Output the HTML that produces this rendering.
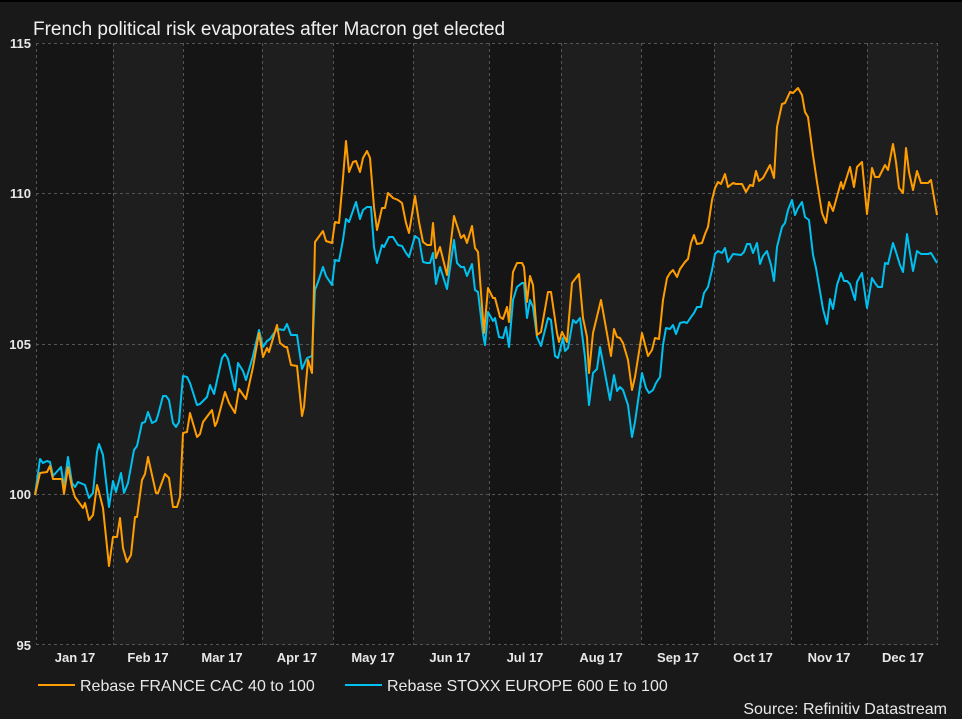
<!DOCTYPE html>
<html><head><meta charset="utf-8"><style>
html,body{margin:0;padding:0;background:#191919;}
svg{display:block;font-family:"Liberation Sans",Arial,sans-serif;}
</style></head><body>
<svg width="962" height="719" viewBox="0 0 962 719" xmlns="http://www.w3.org/2000/svg">
<rect width="962" height="719" fill="#191919"/>
<rect x="0" y="0" width="962" height="2" fill="#000"/>
<g>
<rect x="36" y="43" width="77" height="602" fill="#151515"/>
<rect x="113" y="43" width="70" height="602" fill="#1e1e1e"/>
<rect x="183" y="43" width="79" height="602" fill="#151515"/>
<rect x="262" y="43" width="71" height="602" fill="#1e1e1e"/>
<rect x="333" y="43" width="80" height="602" fill="#151515"/>
<rect x="413" y="43" width="76" height="602" fill="#1e1e1e"/>
<rect x="489" y="43" width="72" height="602" fill="#151515"/>
<rect x="561" y="43" width="80" height="602" fill="#1e1e1e"/>
<rect x="641" y="43" width="73" height="602" fill="#151515"/>
<rect x="714" y="43" width="77" height="602" fill="#1e1e1e"/>
<rect x="791" y="43" width="76" height="602" fill="#151515"/>
<rect x="867" y="43" width="71" height="602" fill="#1e1e1e"/>
</g>
<g stroke="#555" stroke-width="1" stroke-dasharray="3,3" fill="none">
<line x1="36" y1="43.5" x2="938" y2="43.5"/>
<line x1="36" y1="193.5" x2="938" y2="193.5"/>
<line x1="36" y1="344.5" x2="938" y2="344.5"/>
<line x1="36" y1="494.5" x2="938" y2="494.5"/>
<line x1="36" y1="644.5" x2="938" y2="644.5"/>
<line x1="36.5" y1="43" x2="36.5" y2="645"/>
<line x1="113.5" y1="43" x2="113.5" y2="645"/>
<line x1="183.5" y1="43" x2="183.5" y2="645"/>
<line x1="262.5" y1="43" x2="262.5" y2="645"/>
<line x1="333.5" y1="43" x2="333.5" y2="645"/>
<line x1="413.5" y1="43" x2="413.5" y2="645"/>
<line x1="489.5" y1="43" x2="489.5" y2="645"/>
<line x1="561.5" y1="43" x2="561.5" y2="645"/>
<line x1="641.5" y1="43" x2="641.5" y2="645"/>
<line x1="714.5" y1="43" x2="714.5" y2="645"/>
<line x1="791.5" y1="43" x2="791.5" y2="645"/>
<line x1="867.5" y1="43" x2="867.5" y2="645"/>
<line x1="937.5" y1="43" x2="937.5" y2="645"/>
</g>
<text x="33" y="35" fill="#f0f0f0" font-size="19">French political risk evaporates after Macron get elected</text>
<g fill="#e8e8e8" font-size="13" font-weight="bold" text-anchor="end">
<text x="31" y="48">115</text>
<text x="31" y="198">110</text>
<text x="31" y="349">105</text>
<text x="31" y="499">100</text>
<text x="31" y="650">95</text>
</g>
<g fill="#e8e8e8" font-size="13" font-weight="bold" text-anchor="middle">
<text x="75" y="662">Jan 17</text>
<text x="148" y="662">Feb 17</text>
<text x="222" y="662">Mar 17</text>
<text x="297" y="662">Apr 17</text>
<text x="373" y="662">May 17</text>
<text x="450" y="662">Jun 17</text>
<text x="525" y="662">Jul 17</text>
<text x="601" y="662">Aug 17</text>
<text x="678" y="662">Sep 17</text>
<text x="753" y="662">Oct 17</text>
<text x="829" y="662">Nov 17</text>
<text x="903" y="662">Dec 17</text>
</g>
<polyline fill="none" stroke="#00c0f0" stroke-width="2" stroke-linejoin="round" points="35,495 40,459 43,463 47,461 50,462 53,476 61,467 64,487 68,457 72,483 75,487 78,482 85,485 89,498 93,493 97,452 99,444 103,455 109,507 113,481 116,492 121,473 124,493 128,483 134,450 137,446 142,423 145,422 148,412 152,423 156,421 158,415 163,396 166,396 169,400 173,423 176,427 179,422 183,376 187,377 190,383 197,405 200,404 207,397 210,385 214,394 222,358 225,354 228,359 235,390 238,363 243,371 246,380 253,356 259,330 263,347 267,341 270,339 277,329 284,330 287,324 291,335 297,335 302,369 307,358 312,356 315,290 318,282 323,267 326,276 332,285 335,260 339,261 343,240 346,219 349,222 356,202 360,219 363,210 367,207 371,207 374,247 377,263 382,245 384,247 389,237 393,237 398,245 402,246 406,253 409,257 415,236 419,239 423,262 427,263 430,263 433,253 436,284 440,267 447,289 454,240 457,263 461,267 464,267 467,276 472,264 475,290 478,292 483,334 485,345 488,312 493,321 495,318 499,337 503,338 506,327 509,347 513,300 517,287 522,283 524,283 527,318 530,300 533,307 537,337 541,346 548,318 551,320 555,356 558,358 563,338 565,351 568,348 573,320 576,323 580,318 585,357 589,405 593,373 597,369 600,347 610,400 614,375 617,391 620,387 623,390 628,405 632,437 635,422 642,373 646,388 649,393 653,390 656,383 660,377 663,345 666,328 670,329 673,325 676,334 680,323 684,322 687,323 691,317 694,313 697,307 701,307 704,293 708,287 712,270 715,254 718,251 722,253 725,248 728,262 733,254 741,255 744,252 747,244 750,244 753,253 757,243 760,264 763,256 767,251 771,265 774,281 777,247 782,227 785,223 788,210 792,200 795,215 798,208 802,202 805,217 809,220 813,255 816,268 823,309 827,324 830,299 833,309 837,285 841,273 844,281 847,281 850,284 855,300 857,282 862,273 867,308 872,278 875,283 878,287 882,287 885,263 888,264 893,243 896,252 900,265 903,272 907,234 910,253 913,271 917,251 921,254 928,254 931,253 937,263"/>
<polyline fill="none" stroke="#ff9d00" stroke-width="2" stroke-linejoin="round" points="35,495 40,473 47,472 50,466 53,479 62,479 64,494 68,467 72,487 75,497 83,508 85,503 89,520 93,515 97,485 99,492 103,508 109,566 113,537 117,537 120,518 123,548 127,562 131,555 135,517 137,517 142,480 145,474 148,457 156,493 158,493 165,474 169,478 173,507 177,507 180,497 183,433 187,432 190,413 197,437 200,434 203,422 212,410 215,426 217,422 225,392 229,403 235,413 239,389 246,399 253,367 259,333 263,357 267,348 269,352 277,325 280,343 285,347 287,347 291,365 297,366 302,416 304,407 308,360 312,373 315,242 323,231 326,241 332,243 335,222 339,223 343,178 346,141 349,172 353,162 356,161 360,172 363,158 367,151 370,158 374,207 377,230 382,208 385,208 388,193 393,198 398,200 402,203 406,223 409,233 415,196 419,222 423,242 427,245 431,245 433,223 436,258 440,247 447,275 454,216 461,238 464,235 467,243 472,226 475,248 478,252 484,333 488,288 493,298 495,298 500,317 503,319 507,307 509,322 513,272 517,263 522,263 524,267 527,302 530,276 533,285 537,335 541,332 548,292 551,292 557,333 559,342 562,332 567,342 572,283 579,274 583,318 587,337 589,373 593,333 601,300 611,356 614,329 617,337 620,338 623,343 628,360 632,390 635,377 642,333 648,356 652,350 655,338 659,339 663,300 667,278 670,273 673,270 677,277 680,269 685,262 688,259 691,243 694,235 697,244 702,243 705,234 708,227 712,200 715,188 718,182 721,184 725,174 728,187 733,183 736,184 742,184 746,192 750,185 753,186 756,171 759,181 763,178 770,165 774,178 777,127 782,104 785,103 790,92 793,93 798,88 802,95 805,112 808,117 813,155 817,182 822,213 826,223 829,202 833,211 841,182 843,189 850,167 854,187 857,167 862,162 867,214 872,168 875,177 879,177 885,165 888,170 893,144 896,162 899,188 903,193 906,148 909,172 913,190 917,171 921,183 928,183 931,180 937,215"/>
<line x1="38" y1="685" x2="75" y2="685" stroke="#ff9d00" stroke-width="2"/>
<text x="80" y="691" fill="#e8e8e8" font-size="16">Rebase FRANCE CAC 40 to 100</text>
<line x1="345" y1="685" x2="382" y2="685" stroke="#00c0f0" stroke-width="2"/>
<text x="387" y="691" fill="#e8e8e8" font-size="16">Rebase STOXX EUROPE 600 E to 100</text>
<text x="947" y="714" fill="#e8e8e8" font-size="16" text-anchor="end">Source: Refinitiv Datastream</text>
</svg>
</body></html>
